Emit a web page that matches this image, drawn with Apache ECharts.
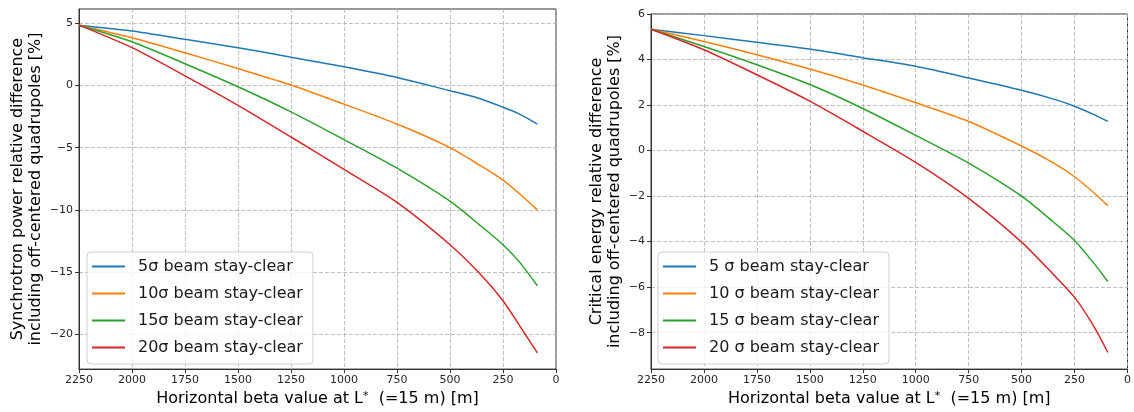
<!DOCTYPE html>
<html>
<head>
<meta charset="utf-8">
<script src="https://cdn.jsdelivr.net/npm/echarts@6/dist/echarts.min.js"></script>
<style>
  html, body { margin: 0; padding: 0; background: #fff; }
  #chart { width: 1134px; height: 412px; }
</style>
</head>
<body>
<div id="chart"></div>
<script>
// beta values (x)
var betaLeft = [2250, 2000, 1750, 1500, 1250, 1000, 750, 500, 361, 250, 172, 88];
var betaRight = [2250, 2000, 1750, 1500, 1250, 1000, 750, 500, 348, 250, 163, 93];

// synchrotron power relative difference [%]
var power5 = [4.85, 4.38, 3.71, 3.04, 2.28, 1.5, 0.65, -0.42, -1.05, -1.75, -2.3, -3.1];
var power10 = [4.85, 3.84, 2.63, 1.36, 0.04, -1.5, -3.1, -5.0, -6.4, -7.6, -8.7, -10.0];
var power15 = [4.85, 3.52, 1.75, -0.1, -2.12, -4.35, -6.65, -9.3, -11.2, -12.8, -14.2, -16.1];
var power20 = [4.85, 3.04, 0.78, -1.59, -4.14, -6.75, -9.4, -12.8, -15.1, -17.3, -19.3, -21.5];

// critical energy relative difference [%]
var energy5 = [5.33, 5.05, 4.76, 4.46, 4.08, 3.70, 3.19, 2.65, 2.26, 1.95, 1.6, 1.28];
var energy10 = [5.33, 4.79, 4.21, 3.58, 2.88, 2.1, 1.28, 0.2, -0.55, -1.15, -1.82, -2.42];
var energy15 = [5.33, 4.57, 3.77, 2.9, 1.85, 0.67, -0.55, -2.0, -3.15, -3.95, -4.9, -5.75];
var energy20 = [5.33, 4.43, 3.33, 2.17, 0.85, -0.52, -2.1, -4.02, -5.46, -6.45, -7.66, -8.87];

var namesLeft = ['5σ beam stay-clear', '10σ beam stay-clear', '15σ beam stay-clear', '20σ beam stay-clear'];
var namesRight = ['5 σ beam stay-clear', '10 σ beam stay-clear', '15 σ beam stay-clear', '20 σ beam stay-clear'];

var yTicksLeft = [-20, -15, -10, -5, 0, 5];
var yTicksRight = [-8, -6, -4, -2, 0, 2, 4, 6];

var colors = ['#1f77b4', '#ff7f0e', '#2ca02c', '#d62728'];
var font = 'DejaVu Sans';

function pairs(xs, ys) {
    return xs.map(function (x, i) { return [x, ys[i]]; });
}
function minus(v) {
    return String(v).replace('-', '\u2212');
}

var gridLine = { show: true, lineStyle: { color: '#b0b0b0', width: 0.8, type: [4, 2] } };

function xAxisFor(idx) {
    return {
        type: 'value', gridIndex: idx, min: 0, max: 2250, interval: 250, inverse: true,
        name: 'Horizontal beta value at L{sup|*}  (=15 m) [m]',
        nameLocation: 'middle', nameGap: 21,
        nameTextStyle: {
            fontFamily: font, fontSize: 16, color: '#000',
            rich: { sup: { fontFamily: font, fontSize: 11, verticalAlign: 'top', color: '#000' } }
        },
        axisLine: { show: true, onZero: false, lineStyle: { color: '#333', width: 1 } },
        axisTick: { show: true, length: 4, lineStyle: { color: '#333' } },
        axisLabel: {
            fontFamily: font, fontSize: 11, color: '#262626', margin: 6,
            showMinLabel: true, showMaxLabel: true,
            formatter: function (v) { return String(v); }
        },
        splitLine: gridLine
    };
}

function yAxisFor(idx, min, max, ticks, name, gap) {
    return {
        type: 'value', gridIndex: idx, min: min, max: max,
        name: name, nameLocation: 'middle', nameRotate: 90, nameGap: gap,
        nameTextStyle: { fontFamily: font, fontSize: 16, lineHeight: 18, color: '#000', align: 'center' },
        axisLine: { show: true, onZero: false, lineStyle: { color: '#333', width: 1 } },
        axisTick: { show: true, length: 4, customValues: ticks, lineStyle: { color: '#333' } },
        axisLabel: { fontFamily: font, fontSize: 11, color: '#262626', margin: 6, customValues: ticks, formatter: minus },
        splitLine: gridLine
    };
}

function legendFor(left, names) {
    return {
        orient: 'vertical', left: left, top: 252, data: names,
        icon: 'rect', itemWidth: 33, itemHeight: 2, itemGap: 10,
        padding: [6, 10, 8, 5],
        borderColor: '#d0d0d0', borderWidth: 1, borderRadius: 4, backgroundColor: 'rgba(255,255,255,0.8)',
        textStyle: { fontFamily: font, fontSize: 16, color: '#1a1a1a', height: 17, lineHeight: 17, padding: [0, 0, 0, 8] }
    };
}

function lineSeries(name, xi, xs, ys, color) {
    return {
        name: name, type: 'line', xAxisIndex: xi, yAxisIndex: xi,
        data: pairs(xs, ys), smooth: 0.25, symbol: 'none', showSymbol: false,
        lineStyle: { color: color, width: 1.5 }, itemStyle: { color: color },
        animation: false
    };
}

var chart = echarts.init(document.getElementById('chart'));
chart.setOption({
    animation: false,
    grid: [
        { left: 79, top: 9, width: 477, height: 362, show: true, borderColor: '#333', borderWidth: 1, backgroundColor: 'transparent' },
        { left: 651, top: 14, width: 484, height: 357, show: true, borderColor: '#333', borderWidth: 1, backgroundColor: 'transparent' }
    ],
    xAxis: [xAxisFor(0), xAxisFor(1)],
    yAxis: [
        yAxisFor(0, -22.8, 6.15, yTicksLeft, 'Synchrotron power relative difference\nincluding off-centered quadrupoles [%]', 34),
        yAxisFor(1, -9.6, 6, yTicksRight, 'Critical energy relative difference\nincluding off-centered quadrupoles [%]', 27)
    ],
    legend: [legendFor(87, namesLeft), legendFor(658, namesRight)],
    series: [
        lineSeries(namesLeft[0], 0, betaLeft, power5, colors[0]),
        lineSeries(namesLeft[1], 0, betaLeft, power10, colors[1]),
        lineSeries(namesLeft[2], 0, betaLeft, power15, colors[2]),
        lineSeries(namesLeft[3], 0, betaLeft, power20, colors[3]),
        lineSeries(namesRight[0], 1, betaRight, energy5, colors[0]),
        lineSeries(namesRight[1], 1, betaRight, energy10, colors[1]),
        lineSeries(namesRight[2], 1, betaRight, energy15, colors[2]),
        lineSeries(namesRight[3], 1, betaRight, energy20, colors[3])
    ]
});
</script>
</body>
</html>
